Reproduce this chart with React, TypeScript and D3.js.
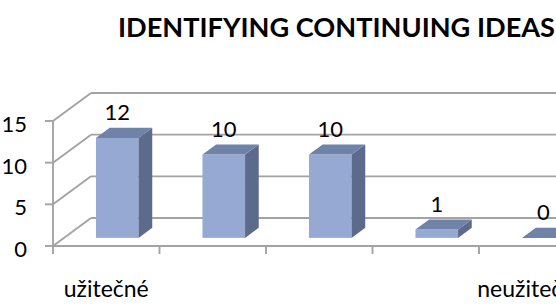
import React from "react";
import * as d3 from "d3";

const title = "IDENTIFYING CONTINUING IDEAS";
const categories = ["1", "2", "3", "4", "5"];
const categoryLabels = ["užitečné", "", "", "", "neužitečné"];
const values = [12, 10, 10, 1, 0];
const yTicks = [0, 5, 10, 15];

const W = 556;
const H = 307;
const FRONT_LEFT = 53;
const FRONT_RIGHT = 585.5;
const Y0 = 246;
const Y15 = 121;
const DEPTH_DX = 38;
const DEPTH_DY = -28;
const BAR_F1 = 0.29;
const BAR_F2 = 0.65;

const FONT = "Lato, 'Noto Sans', sans-serif";
const GRID = "#A3A3A3";
const FRONT = "#95A9D2";
const TOP = "#6F82A8";
const SIDE = "#5C6B8C";

export default function App() {
  const y = d3.scaleLinear().domain([0, 15]).range([Y0, Y15]);
  const xCat = d3.scaleBand().domain(categories).range([FRONT_LEFT, FRONT_RIGHT]);
  const xBar = d3
    .scaleBand()
    .domain(categories)
    .range([FRONT_LEFT, FRONT_RIGHT])
    .paddingInner(0.6)
    .paddingOuter(0.3);

  const fdx = BAR_F1 * DEPTH_DX;
  const fdy = BAR_F1 * DEPTH_DY;
  const bdx = (BAR_F2 - BAR_F1) * DEPTH_DX;
  const bdy = (BAR_F2 - BAR_F1) * DEPTH_DY;
  const bw = xBar.bandwidth();

  const poly = (pts: [number, number][]) => pts.map((p) => p.join(",")).join(" ");

  return (
    <svg
      width={W}
      height={H}
      style={{ position: "absolute", left: 0, top: 0, background: "#fff" }}
    >
      <text
        x={118}
        y={37}
        fontFamily={FONT}
        fontWeight="bold"
        fontSize={26}
        textLength={437}
        lengthAdjust="spacingAndGlyphs"
        fill="#000"
      >
        {title}
      </text>

      {/* gridlines: side wall diagonals + back wall horizontals */}
      {yTicks.map((v) => (
        <g key={"g" + v}>
          <line
            x1={FRONT_LEFT}
            y1={y(v)}
            x2={FRONT_LEFT + DEPTH_DX}
            y2={y(v) + DEPTH_DY}
            stroke={GRID}
            strokeWidth={1.9}
          />
          <line
            x1={FRONT_LEFT + DEPTH_DX}
            y1={y(v) + DEPTH_DY}
            x2={W + 50}
            y2={y(v) + DEPTH_DY}
            stroke={GRID}
            strokeWidth={1.9}
          />
          <line x1={45} y1={y(v)} x2={FRONT_LEFT} y2={y(v)} stroke={GRID} strokeWidth={1.9} />
          <text
            x={27}
            y={y(v) + 11}
            textAnchor="end"
            fontFamily={FONT}
            fontSize={22}
            fill="#000"
          >
            {v}
          </text>
        </g>
      ))}

      {/* value axis line */}
      <line x1={FRONT_LEFT} y1={y(15)} x2={FRONT_LEFT} y2={y(0)} stroke={GRID} strokeWidth={1.9} />
      {/* floor front edge */}
      <line x1={FRONT_LEFT} y1={y(0)} x2={W + 50} y2={y(0)} stroke={GRID} strokeWidth={1.9} />

      {/* category ticks */}
      {categories.map((c) => (
        <line
          key={"t" + c}
          x1={xCat(c)!}
          y1={y(0)}
          x2={xCat(c)!}
          y2={y(0) + 8}
          stroke={GRID}
          strokeWidth={1.9}
        />
      ))}

      {/* bars */}
      {categories.map((c, i) => {
        const v = values[i];
        const x0 = xBar(c)! + fdx;
        const x1 = x0 + bw;
        const yb = y(0) + fdy;
        const yt = y(v) + fdy;
        return (
          <g key={"b" + c}>
            {v > 0 && (
              <rect x={x0} y={yt} width={bw} height={yb - yt} fill={FRONT} />
            )}
            {v > 0 && (
              <polygon
                points={poly([
                  [x1, yt],
                  [x1 + bdx, yt + bdy],
                  [x1 + bdx, yb + bdy],
                  [x1, yb],
                ])}
                fill={SIDE}
              />
            )}
            <polygon
              points={poly([
                [x0, yt],
                [x0 + bdx, yt + bdy],
                [x1 + bdx, yt + bdy],
                [x1, yt],
              ])}
              fill={TOP}
            />
            <text
              x={x0 + bw / 2}
              y={yt - 18}
              textAnchor="middle"
              fontFamily={FONT}
              fontSize={22}
              fill="#000"
            >
              {v}
            </text>
          </g>
        );
      })}

      {/* category labels */}
      {categories.map((c, i) =>
        categoryLabels[i] ? (
          <text
            key={"l" + c}
            x={xCat(c)! + xCat.bandwidth() / 2}
            y={297}
            textAnchor="middle"
            fontFamily={FONT}
            fontSize={23}
            fill="#000"
          >
            {categoryLabels[i]}
          </text>
        ) : null
      )}
    </svg>
  );
}
